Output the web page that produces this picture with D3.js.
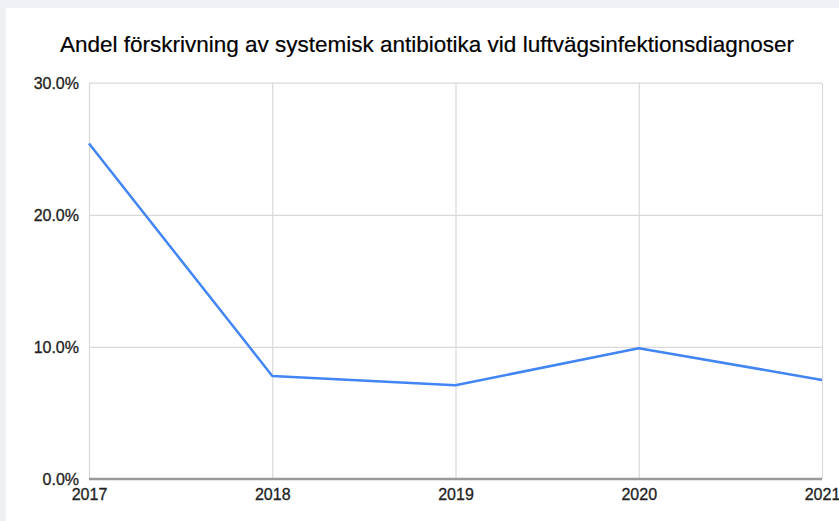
<!DOCTYPE html>
<html>
<head>
<meta charset="utf-8">
<script src="https://cdn.jsdelivr.net/npm/d3@7"></script>
<style>
  html, body { margin: 0; padding: 0; background: #eef0f3; }
  svg { display: block; }
</style>
</head>
<body>
<script>
// Andel förskrivning per år
const years = ["2017", "2018", "2019", "2020", "2021"];
const shares = [0.254, 0.078, 0.071, 0.099, 0.075];
const yTicks = [0, 0.1, 0.2, 0.3];
const title = "Andel förskrivning av systemisk antibiotika vid luftvägsinfektionsdiagnoser";

const W = 839, H = 521;
const svg = d3.select("body").append("svg").attr("width", W).attr("height", H);

// white card with a thin page margin on top and left
svg.append("rect").attr("x", 6).attr("y", 8).attr("width", W - 6).attr("height", H - 8).attr("fill", "#ffffff");

const plotLeft = 89, plotRight = 822, plotTop = 82.7, plotBottom = 479;
const x = d3.scalePoint().domain(years).range([plotLeft, plotRight]);
const y = d3.scaleLinear().domain([0, 0.3]).range([plotBottom, plotTop]);
const font = "'Liberation Sans', Arial, Helvetica, sans-serif";

svg.append("text")
  .attr("x", 427).attr("y", 52)
  .attr("text-anchor", "middle")
  .attr("font-family", font).attr("font-size", 22.5)
  .attr("fill", "#000")
  .attr("stroke", "#000").attr("stroke-width", 0.2)
  .text(title);

// horizontal gridlines + y labels
const yAxis = d3.axisLeft(y).tickValues(yTicks).tickSize(-(plotRight - plotLeft)).tickPadding(10)
  .tickFormat(d3.format(".1%"));
const gy = svg.append("g").attr("transform", `translate(${plotLeft},0)`).call(yAxis);
gy.select(".domain").remove();
gy.selectAll(".tick line").attr("stroke", "#d9d9d9").attr("stroke-width", 1.2);
gy.selectAll(".tick text").attr("font-family", font).attr("font-size", 16).attr("fill", "#222")
  .attr("stroke", "#222").attr("stroke-width", 0.3).attr("dy", "0.36em");

// vertical gridlines + x labels
const xAxis = d3.axisBottom(x).tickSize(-(plotBottom - plotTop)).tickPadding(10);
const gx = svg.append("g").attr("transform", `translate(0,${plotBottom})`).call(xAxis);
gx.select(".domain").remove();
gx.selectAll(".tick line").attr("stroke", "#d9d9d9").attr("stroke-width", 1.2);
gx.selectAll(".tick text").attr("font-family", font).attr("font-size", 16).attr("fill", "#222")
  .attr("stroke", "#222").attr("stroke-width", 0.3);

// baseline
svg.append("line")
  .attr("x1", plotLeft).attr("x2", plotRight).attr("y1", y(0)).attr("y2", y(0))
  .attr("stroke", "#999").attr("stroke-width", 2.5);

// series
const line = d3.line().x((d, i) => x(years[i])).y(d => y(d));
svg.append("path")
  .datum(shares)
  .attr("d", line)
  .attr("fill", "none")
  .attr("stroke", "#4285f4")
  .attr("stroke-width", 2.5)
  .attr("stroke-linejoin", "round");
</script>
</body>
</html>
